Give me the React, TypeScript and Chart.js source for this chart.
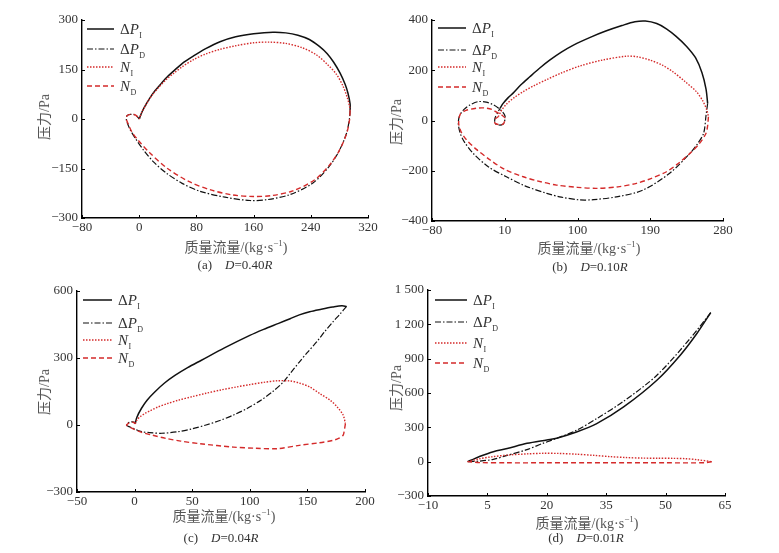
import React, { useEffect, useRef } from 'react';
import { Chart, registerables } from 'chart.js';
Chart.register(...registerables);

type Pt = [number, number];

// ---------- Panel (a) D=0.40R ----------
const aXTicks = [-80, 0, 80, 160, 240, 320];
const aYTicks = [-300, -150, 0, 150, 300];
const aDPI: Pt[] = [[0,0],[4,22],[10.5,48],[19,77],[29,103],[38,125],[48,145],[60,168],[76,191],[93,213],[113,234],[135,249],[160,258],[187,263],[205,261],[222,254],[238,241],[252,220],[263,198],[272,172],[281,139],[288,105],[292,78],[295,45],[295,27]];
const aDPD: Pt[] = [[295,27],[294,0],[290,-43],[280,-95],[266,-143],[243,-194],[211,-229],[180,-244],[155,-247],[120,-237],[85,-219],[60,-195],[38,-164],[20,-130],[6,-94],[-5,-60],[-12,-35],[-17,-10],[-18,0],[-17,10],[-12,14],[-5,12],[0,0]];
const aNI: Pt[] = [[0,0],[4,22],[10.5,47],[19,75],[29,100],[38,120],[48,138],[60,158],[76,180],[93,197],[113,211],[135,222],[160,231],[182,233],[205,229],[228,216],[248,194],[263,166],[276,135],[285,100],[291,65],[294,40],[295,25]];
const aND: Pt[] = [[295,25],[294,-5],[290,-45],[280,-95],[266,-140],[245,-185],[215,-218],[185,-232],[160,-235],[130,-230],[100,-215],[70,-190],[39,-149],[15,-103],[0,-68],[-10,-40],[-16,-12],[-18,0],[-17,10],[-12,14],[-5,12],[0,0]];

// ---------- Panel (b) D=0.10R ----------
const bXTicks = [-80, 10, 100, 190, 280];
const bYTicks = [-400, -200, 0, 200, 400];
const bDPI: Pt[] = [[4,48],[8,68],[14,90],[20.6,110],[30,142],[41,174],[53,208],[66,241],[80,272],[95,300],[115,330],[135,356],[155,378],[171,393],[184,396],[198,386],[210,365],[222,335],[235,295],[246,250],[254,190],[259,125],[261,68]];
const bDPD: Pt[] = [[261,68],[259,20],[256,-51],[248,-95],[239,-131],[214,-210],[181,-277],[150,-303],[120,-315],[103,-316],[80,-305],[62,-290],[35,-260],[12,-224],[-10,-185],[-29,-131],[-40,-85],[-45,-51],[-47.5,-11],[-45.5,22],[-40,45],[-33,62],[-23,75],[-13,73],[-5,64],[2,50],[7,35],[10.3,18],[10,0],[8,-14],[3,-18],[-2,-11],[-2,10],[1,30],[4,48]];
const bNI: Pt[] = [[2,15],[6,40],[12.4,66],[22,92],[33,115],[47,140],[62,163],[80,189],[103,217],[130,240],[161,256],[175,253],[190,240],[205,220],[218,194],[233,155],[247,115],[255,78],[260,42],[262,15]];
const bND: Pt[] = [[262,15],[261,-20],[259,-51],[250,-95],[239,-131],[225,-170],[210,-204],[190,-232],[173,-250],[150,-264],[124,-270],[100,-266],[74,-257],[50,-240],[33,-224],[10,-195],[-8,-157],[-25,-115],[-37,-78],[-44,-45],[-47,-11],[-45,25],[-38,40],[-25,49],[-15,50],[-6,44],[2,29],[7,20],[10.3,9],[8.2,-14],[3,-16],[-2,-11],[-2,5],[2,15]];

// ---------- Panel (c) D=0.04R ----------
const cXTicks = [-50, 0, 50, 100, 150, 200];
const cYTicks = [-300, 0, 300, 600];
const cDPI: Pt[] = [[0.5,5],[2,35],[6,75],[11,112],[17.7,149],[26,188],[35,222],[46,257],[58,290],[78,345],[100,401],[112,428],[125,455],[135,476],[143,493],[152,507],[162,518],[172,528],[180,534],[184,531]];
const cDPD: Pt[] = [[184,531],[178,495],[172,461],[165,418],[158,372],[150,325],[143,282],[136,237],[129,192],[120,150],[110,112],[98,75],[86,45],[74,20],[62,0],[50,-17],[38,-30],[23.5,-37],[13,-34],[6.2,-30],[0,-18],[-4,-9],[-7,-1],[-6,8],[-3,14],[0,12],[0.5,5]];
const cNI: Pt[] = [[0.5,5],[2,22],[5,38],[9,52],[13.6,64],[20,80],[28,95],[38,111],[50,127],[62,142],[75,157],[88,170],[100,181],[112,191],[124,198],[135,197],[143,188],[152,170],[161,140],[170,110],[176,80],[181,45],[183,6]];
const cND: Pt[] = [[183,6],[182,-25],[181,-46],[177,-60],[172,-69],[160,-80],[143,-91],[124,-106],[105,-104],[86,-99],[57,-84],[40,-72],[28,-61],[15,-45],[5,-31],[-2,-15],[-7,-1],[-5,8],[-2,12],[0,10],[0.5,5]];

// ---------- Panel (d) D=0.01R ----------
const dXTicks = [-10, 5, 20, 35, 50, 65];
const dYTicks = [-300, 0, 300, 600, 900, 1200, 1500];
const dDPI: Pt[] = [[0,0],[1,15],[3,45],[6.5,87],[10,115],[15,160],[20,190],[22.5,205],[27.5,259],[32.6,332],[39.4,478],[47.8,711],[53.7,930],[57.9,1120],[61.4,1303]];
const dDPD: Pt[] = [[61.4,1303],[56.2,1076],[47.8,755],[39.4,528],[32.6,376],[27.5,274],[22.5,204],[19,160],[15,105],[10,55],[6.5,20],[3,5],[0,0]];
const dNI: Pt[] = [[0,0],[3,25],[6,42],[10.7,59],[15,68],[19,73],[23,72],[27.5,65],[32,55],[36,44],[40,36],[44.4,31],[48,30],[52,29],[55,26],[58,17],[61.7,0]];
const dND: Pt[] = [[61.7,0],[60,-9],[50,-10],[40,-10],[30,-10],[20,-10],[10,-10],[3,-8],[0,0]];

const RED = '#d42a2a';
const BLACK = '#111';
const seriesStyle = [
  { letter: 'P', delta: true, sub: 'I', color: BLACK, dash: [] as number[], width: 1.5 },
  { letter: 'P', delta: true, sub: 'D', color: BLACK, dash: [6, 2, 1.5, 2], width: 1.2 },
  { letter: 'N', delta: false, sub: 'I', color: RED, dash: [1.5, 1.5], width: 1.4 },
  { letter: 'N', delta: false, sub: 'D', color: RED, dash: [5, 3], width: 1.4 },
];

type Panel = {
  left: number; top: number; w: number; h: number;
  area: { l: number; t: number; r: number; b: number };
  series: Pt[][];
  xTicks: number[]; yTicks: number[];
  legend: { x: number; rows: number[]; len: number };
  yTitle: [number, number]; xTitle: [number, number]; caption: [number, number];
  tag: string; dval: string;
};

const panels: Panel[] = [
  { left: 0, top: 0, w: 390, h: 275, area: { l: 82, t: 20, r: 368, b: 218 }, series: [aDPI, aDPD, aNI, aND], xTicks: aXTicks, yTicks: aYTicks,
    legend: { x: 5, rows: [9, 29, 47, 66], len: 27 }, yTitle: [43, 117], xTitle: [236, 246], caption: [235, 265], tag: 'a', dval: '0.40' },
  { left: 390, top: 0, w: 389, h: 275, area: { l: 432, t: 20, r: 723, b: 221 }, series: [bDPI, bDPD, bNI, bND], xTicks: bXTicks, yTicks: bYTicks,
    legend: { x: 6, rows: [8, 30, 47, 67], len: 28 }, yTitle: [395, 122], xTitle: [589, 247], caption: [590, 267], tag: 'b', dval: '0.10' },
  { left: 0, top: 275, w: 390, h: 278, area: { l: 77, t: 291, r: 365, b: 492 }, series: [cDPI, cDPD, cNI, cND], xTicks: cXTicks, yTicks: cYTicks,
    legend: { x: 6, rows: [9, 32, 49, 67], len: 29 }, yTitle: [43, 392], xTitle: [224, 515], caption: [221, 538], tag: 'c', dval: '0.04' },
  { left: 390, top: 275, w: 389, h: 278, area: { l: 428, t: 290, r: 725, b: 496 }, series: [dDPI, dDPD, dNI, dND], xTicks: dXTicks, yTicks: dYTicks,
    legend: { x: 7, rows: [10, 32, 53, 73], len: 32 }, yTitle: [395, 388], xTitle: [587, 522], caption: [586, 538], tag: 'd', dval: '0.01' },
];

const fmt = (v: number) => {
  const s = Math.abs(v) >= 1000 ? String(Math.abs(v)).replace(/\B(?=(\d{3})+(?!\d))/g, ' ') : String(Math.abs(v));
  return (v < 0 ? '\u2212' : '') + s;
};

const SERIF = '"Liberation Serif", "Times New Roman", serif';

function makeLegendPlugin(p: Panel) {
  return {
    id: 'panelLegend',
    afterDraw(chart: any) {
      const { ctx, chartArea } = chart;
      ctx.save();
      seriesStyle.forEach((s, i) => {
        const y = chartArea.top + p.legend.rows[i];
        const x0 = chartArea.left + p.legend.x;
        ctx.beginPath();
        ctx.setLineDash(s.dash);
        ctx.strokeStyle = s.color;
        ctx.lineWidth = s.width;
        ctx.moveTo(x0, y);
        ctx.lineTo(x0 + p.legend.len, y);
        ctx.stroke();
        ctx.setLineDash([]);
        let tx = x0 + p.legend.len + 6;
        const base = y + 5;
        ctx.fillStyle = '#333';
        ctx.textBaseline = 'alphabetic';
        if (s.delta) {
          ctx.font = '15px ' + SERIF;
          ctx.fillText('\u0394', tx, base);
          tx += ctx.measureText('\u0394').width;
        }
        ctx.font = 'italic 15px ' + SERIF;
        ctx.fillText(s.letter, tx, base);
        tx += ctx.measureText(s.letter).width + 0.5;
        ctx.font = '8px ' + SERIF;
        ctx.fillText(s.sub, tx, base + 4);
      });
      ctx.restore();
    },
  };
}

const innerTicks = {
  id: 'innerTicks',
  afterDraw(chart: any) {
    const { ctx, chartArea, scales } = chart;
    ctx.save();
    ctx.strokeStyle = '#000';
    ctx.lineWidth = 1;
    scales.x.ticks.forEach((t: any) => {
      const px = Math.round(scales.x.getPixelForValue(t.value)) + 0.5;
      ctx.beginPath();
      ctx.moveTo(px, chartArea.bottom);
      ctx.lineTo(px, chartArea.bottom - 3);
      ctx.stroke();
    });
    scales.y.ticks.forEach((t: any) => {
      const py = Math.round(scales.y.getPixelForValue(t.value)) + 0.5;
      ctx.beginPath();
      ctx.moveTo(chartArea.left, py);
      ctx.lineTo(chartArea.left + 3, py);
      ctx.stroke();
    });
    ctx.restore();
  },
};

function PanelChart({ p }: { p: Panel }) {
  const ref = useRef<HTMLCanvasElement>(null);
  useEffect(() => {
    if (!ref.current) return;
    const order = [2, 3, 0, 1];
    const datasets = order.map((i) => ({
      label: (seriesStyle[i].delta ? '\u0394' : '') + seriesStyle[i].letter + seriesStyle[i].sub,
      data: p.series[i].map(([x, y]) => ({ x, y })),
      borderColor: seriesStyle[i].color,
      borderDash: seriesStyle[i].dash,
      borderWidth: seriesStyle[i].width,
      showLine: true,
      pointRadius: 0,
      tension: 0.3,
      fill: false,
    }));
    const yW = p.area.l - p.left;
    const xH = p.top + p.h - p.area.b;
    const tickFont = { family: SERIF, size: 13 };
    const chart = new Chart(ref.current, {
      type: 'scatter',
      data: { datasets },
      options: {
        animation: false,
        responsive: false,
        devicePixelRatio: 1,
        layout: { padding: { left: 0, top: p.area.t - p.top, right: p.left + p.w - p.area.r, bottom: 0 } },
        plugins: { legend: { display: false }, tooltip: { enabled: false } },
        scales: {
          x: {
            type: 'linear',
            min: p.xTicks[0],
            max: p.xTicks[p.xTicks.length - 1],
            afterBuildTicks: (s: any) => { s.ticks = p.xTicks.map((v) => ({ value: v })); },
            afterFit: (s: any) => { s.height = xH; },
            ticks: { callback: (v: any) => fmt(Number(v)), font: tickFont, color: '#333', padding: 2, maxRotation: 0, autoSkip: false },
            grid: { display: false, drawTicks: false },
            border: { display: true, color: '#000', width: 1.4 },
          },
          y: {
            type: 'linear',
            min: p.yTicks[0],
            max: p.yTicks[p.yTicks.length - 1],
            afterBuildTicks: (s: any) => { s.ticks = p.yTicks.map((v) => ({ value: v })); },
            afterFit: (s: any) => { s.width = yW; },
            ticks: { callback: (v: any) => fmt(Number(v)), font: tickFont, color: '#333', padding: 4, autoSkip: false },
            grid: { display: false, drawTicks: false },
            border: { display: true, color: '#000', width: 1.4 },
          },
        },
      } as any,
      plugins: [innerTicks, makeLegendPlugin(p)],
    });
    return () => chart.destroy();
  }, [p]);
  return (
    <canvas
      ref={ref}
      width={p.w}
      height={p.h}
      style={{ position: 'absolute', left: p.left, top: p.top, width: p.w, height: p.h }}
    />
  );
}

const center: React.CSSProperties = { position: 'absolute', transform: 'translate(-50%, -50%)', whiteSpace: 'nowrap' };
const titleFont = `"Liberation Serif", "Noto Sans CJK SC", serif`;

export default function App() {
  return (
    <div style={{ position: 'fixed', left: 0, top: 0, width: 779, height: 553, background: '#fff', overflow: 'hidden' }}>
      {panels.map((p) => (
        <React.Fragment key={p.tag}>
          <PanelChart p={p} />
          <div style={{ ...center, left: p.yTitle[0], top: p.yTitle[1], transform: 'translate(-50%, -50%) rotate(-90deg)', fontFamily: titleFont, fontSize: 14, color: '#555' }}>
            压力/Pa
          </div>
          <div style={{ ...center, left: p.xTitle[0], top: p.xTitle[1], fontFamily: titleFont, fontSize: 14, color: '#555' }}>
            质量流量/(kg·s<span style={{ fontSize: 9, verticalAlign: 'super' }}>−1</span>)
          </div>
          <div style={{ ...center, left: p.caption[0], top: p.caption[1], fontFamily: SERIF, fontSize: 13, color: '#333' }}>
            ({p.tag})&nbsp;&nbsp;&nbsp;&nbsp;<i>D</i>={p.dval}<i>R</i>
          </div>
        </React.Fragment>
      ))}
    </div>
  );
}
